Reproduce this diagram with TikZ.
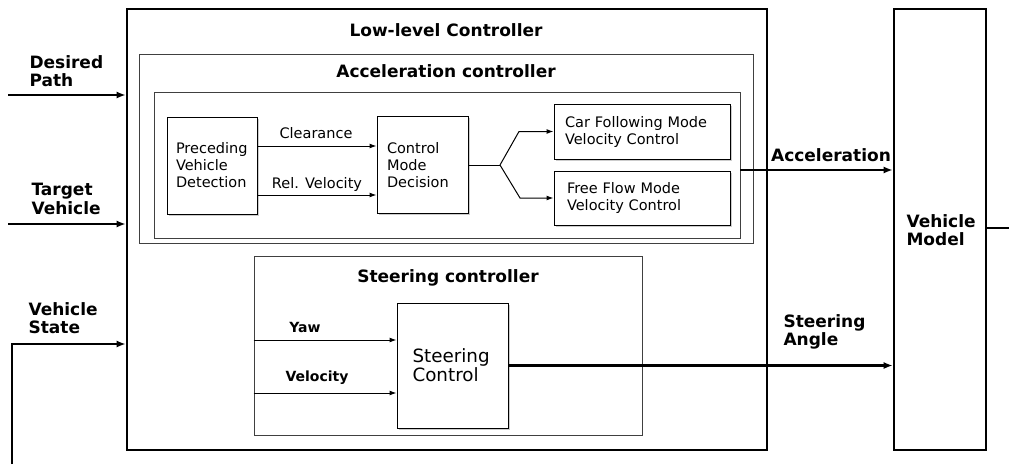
\documentclass[tikz,border=0pt]{standalone}
\usepackage{fontspec}
\setmainfont{DejaVu Sans}
\usetikzlibrary{arrows.meta, positioning, shadows}

\begin{document}
\begin{tikzpicture}[
  x=1pt, y=-1pt,
  frame/.style={draw, line width=2.6pt, inner sep=0pt},
  group/.style={draw=black!75, line width=0.9pt, inner sep=0pt},
  block/.style={draw, line width=1pt, inner ysep=2pt, align=left, fill=white,
    drop shadow={shadow xshift=1.5pt, shadow yshift=-1.5pt, fill=black!40, opacity=0.5},
    font=\fontsize{14.5}{17}\selectfont},
  title/.style={font=\bfseries\fontsize{17}{19}\selectfont},
  sig/.style={font=\bfseries\fontsize{17}{18.5}\selectfont, align=left},
  lbl/.style={font=\fontsize{14.5}{17}\selectfont},
  slbl/.style={font=\bfseries\fontsize{14}{16}\selectfont},
  bus/.style={line width=2.4pt, -{Latex[length=9pt, width=7pt]}},
  wire/.style={line width=1pt, -{Latex[length=7pt, width=5pt]}}
]
  \useasboundingbox (0,0) rectangle (1009,464);

  % Outer frames
  \node[frame, minimum width=640pt, minimum height=441pt] (llc) at (447,229.5) {};
  \node[title] (llct) at (446,30) {Low-level Controller};
  \node[frame, minimum width=92pt, minimum height=441pt] (vm) at (940,229.5) {};
  \node[sig, anchor=west] (vmt) at (903,230) {Vehicle\\Model};

  % Acceleration controller
  \node[group, minimum width=614pt, minimum height=189pt] (accout) at (446,148.5) {};
  \node[title] (acct) at (446,71) {Acceleration controller};
  \node[group, minimum width=586pt, minimum height=146pt] (accin) at (447,165) {};
  \node[block, inner xsep=9pt, text width=72pt, minimum height=97pt]
    (pvd) at (212,165.5) {Preceding\\Vehicle\\Detection};
  \node[block, inner xsep=10pt, text width=71pt, minimum height=97pt]
    (cmd) at (422.5,165) {Control\\Mode\\Decision};
  \node[block, inner xsep=11pt, text width=154pt, minimum height=55pt]
    (cfm) at (642,131.5) {Car Following Mode\\Velocity Control};
  \node[block, inner xsep=13pt, text width=150pt, minimum height=54pt]
    (ffm) at (642,198) {Free Flow Mode\\Velocity Control};

  \draw[wire] (pvd.east |- 0,146) -- (cmd.west |- 0,146);
  \draw[wire] (pvd.east |- 0,195) -- (cmd.west |- 0,195);
  \node[lbl] (clr) at (316,133) {Clearance};
  \node[lbl] (rvel) at (317,184) {Rel. Velocity};

  \coordinate (fork) at (500,165);
  \draw[line width=1pt] (cmd.east) -- (fork);
  \draw[wire] (fork) -- (519,131.5) -- (cfm.west);
  \draw[wire] (fork) -- (520,198) -- (ffm.west);

  % Steering controller
  \node[group, minimum width=388pt, minimum height=179pt] (str) at (448,345.5) {};
  \node[title] (strt) at (448,278) {Steering controller};
  \node[block, inner xsep=15.5pt, text width=80pt, minimum height=125pt,
    font=\fontsize{18.3}{19}\selectfont] (sc) at (452.5,365.5) {Steering\\Control};
  \draw[wire] (str.west |- 0,340) -- (sc.west |- 0,340);
  \draw[wire] (str.west |- 0,393) -- (sc.west |- 0,393);
  \node[slbl] (yaw) at (305,327) {Yaw};
  \node[slbl] (vel) at (317,378) {Velocity};

  % Inputs
  \coordinate (dpin) at (8,95);
  \coordinate (tvin) at (8,224);
  \coordinate (vsin) at (12,464);
  \draw[bus] (dpin) -- (dpin -| llc.west);
  \draw[bus] (tvin) -- (tvin -| llc.west);
  \draw[bus] (vsin) |- (llc.west |- 0,344);
  \node[sig, anchor=west] (dp) at (26,71) {Desired\\Path};
  \node[sig, anchor=west] (tv) at (28,199) {Target\\Vehicle};
  \node[sig, anchor=west] (vs) at (25,318) {Vehicle\\State};

  % Outputs
  \draw[bus] (accin.east |- 0,170) -- (vm.west |- 0,170);
  \node[sig] (acc) at (831,155) {Acceleration};
  \draw[bus] (sc.east) -- (sc.east -| vm.west);
  \node[sig, anchor=west] (sa) at (780,332) {Steering\\Angle};
  \coordinate (vmout) at (1009,228);
  \draw[line width=2.4pt] (vm.east |- vmout) -- (vmout);
\end{tikzpicture}
\end{document}
